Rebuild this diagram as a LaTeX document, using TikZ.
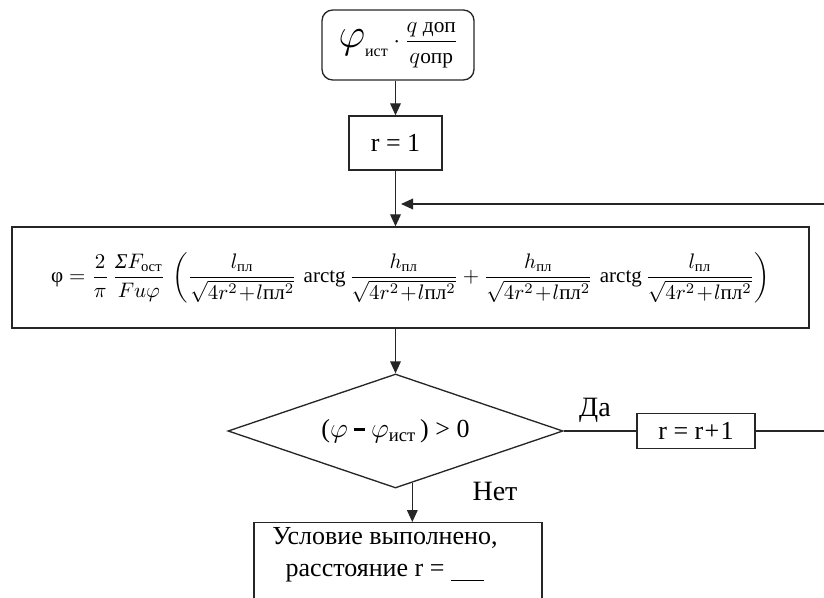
\documentclass[tikz,border=0pt]{standalone}
\usepackage{amsmath}
\usepackage{graphicx}
\usepackage{fontspec}
\setmainfont{Liberation Serif}
\usetikzlibrary{shapes.geometric,arrows.meta,calc}
\tikzset{
  px/.style={x=0.75pt,y=-0.75pt},
  line/.style={line width=1pt,draw=black!85},
  arr/.style={line, -{Triangle[width=8pt,length=9pt]}},
  blk/.style={draw=black!85,line width=1pt,inner sep=0pt},
  lbl/.style={font=\fontsize{21}{24}\selectfont,inner sep=0pt},
  big/.style={font=\fontsize{19.5}{24}\selectfont},
}
\newcommand{\shortminus}{\mathbin{\rule[0.23em]{0.42em}{0.11em}}}
\begin{document}
\begin{tikzpicture}[px]
\useasboundingbox (0,0) rectangle (824,598);
\clip (0,0) rectangle (824,598);
% start
\node[blk,rounded corners=8pt,minimum width=114pt,minimum height=52.5pt] (start) at (398,45)
  {\fontsize{16}{19}\selectfont$\displaystyle \scalebox{1.8}{$\varphi$}_{\text{\fontsize{12}{14}\selectfont ист}}\cdot\frac{q\ \text{доп}}{q\text{опр}}$};
% r = 1
\node[blk,big,minimum width=69.75pt,minimum height=40.5pt] (r1) at (395.5,143) {r = 1};
% formula
\node[blk,minimum width=597.75pt,minimum height=75.75pt] (form) at (410.5,277.5)
  {\resizebox{539pt}{!}{$\displaystyle \text{φ} = \frac{2}{\pi}\,\frac{\text{\itshape Σ}F_{\text{ост}}}{Fu\varphi}\,\left(\frac{l_{\text{пл}}}{\sqrt{4r^2\!+\!l\text{пл}^2}}\,\operatorname{arctg}\frac{h_{\text{пл}}}{\sqrt{4r^2\!+\!l\text{пл}^2}}+\frac{h_{\text{пл}}}{\sqrt{4r^2\!+\!l\text{пл}^2}}\,\operatorname{arctg}\frac{l_{\text{пл}}}{\sqrt{4r^2\!+\!l\text{пл}^2}}\right)$}};
% decision
\node[blk,shape=diamond,shape aspect=2.94,minimum width=251.25pt,minimum height=85.5pt] (dec) at (395.5,431)
  {\fontsize{19.5}{24}\selectfont($\varphi\shortminus\varphi_{\text{\fontsize{14}{16}\selectfont ист}}$\,) > 0};
% r = r+1
\node[blk,big,minimum width=88.5pt,minimum height=26.25pt] (rr) at (696,431) {r = r\kern1pt+\kern1pt1};
% result
\node[blk,minimum width=216pt,minimum height=90pt,anchor=north] (res) at (398,522) {};
\node[big,inner sep=0pt,align=center] (restext) at (385,555)
  {Условие выполнено,\\ расстояние r = \underline{\hspace{25pt}}};
% labels
\node[lbl] (yes) at (595,410) {Да};
\node[lbl] (no) at (495,491) {Нет};
% coordinates
\coordinate (back) at (824,204);
\coordinate (backend) at (401,204);
\coordinate (rrout) at (824,431);
\coordinate (nstart) at ($(dec.south)!0.1!(dec.east)$);
% connectors
\draw[arr] (start.south -| r1.north) -- (r1.north);
\draw[arr] (r1.south) -- (r1.south |- form.north);
\draw[arr] (back) -- (backend);
\draw[arr] (form.south -| dec.north) -- (dec.north);
\draw[line] (dec.east) -- (rr.west);
\draw[line] (rr.east) -- (rrout);
\draw[arr] (nstart) -- (nstart |- res.north);
\end{tikzpicture}
\end{document}
